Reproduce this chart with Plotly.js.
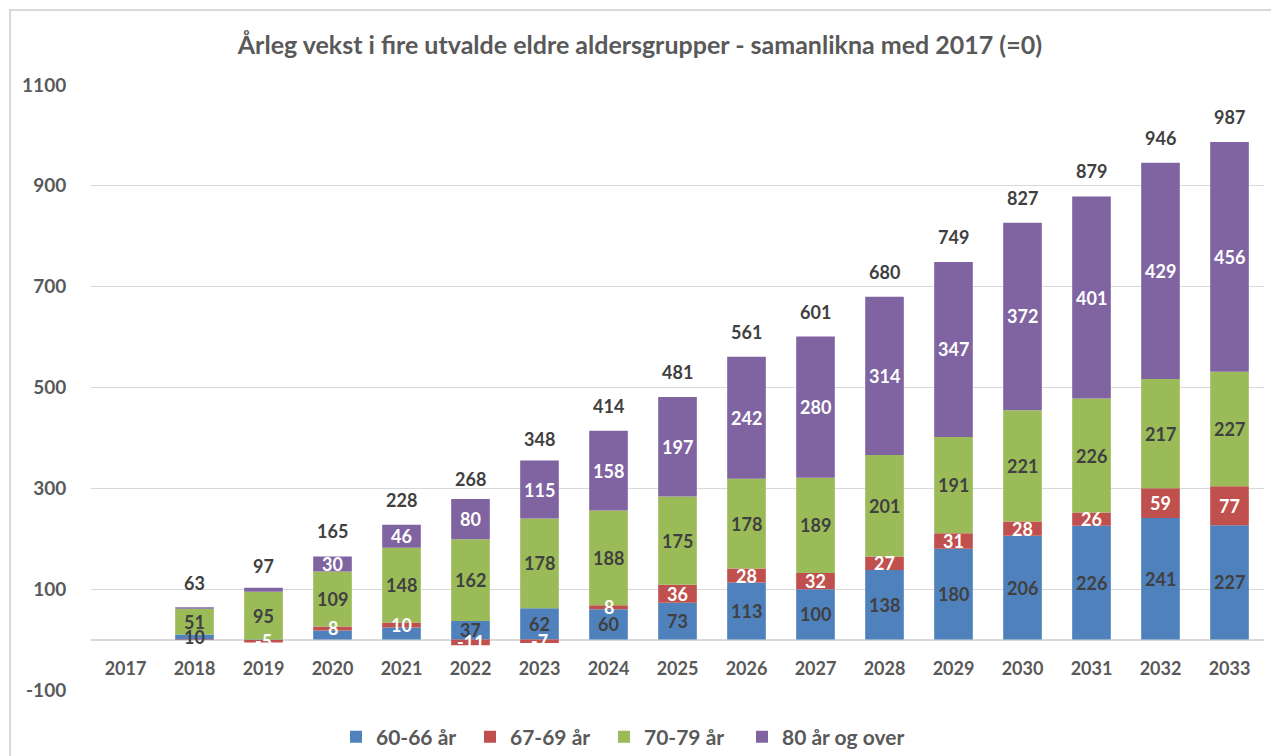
<!DOCTYPE html>
<html>
<head>
<meta charset="utf-8">
<script src="https://cdn.plot.ly/plotly-3.0.1.min.js"></script>
<style>
  html, body { margin: 0; padding: 0; background: #ffffff; }
  #wrap { position: relative; width: 1271px; height: 756px; overflow: hidden; }
  #frame { position: absolute; left: 9px; top: 9px; width: 1300px; height: 800px;
           border-left: 2px solid #d9d9d9; border-top: 2px solid #d9d9d9; pointer-events: none; z-index: 5; }
  #chart { position: absolute; left: 0; top: 0; width: 1271px; height: 756px; }
</style>
</head>
<body>
<div id="wrap">
  <div id="chart"></div>
  <div id="frame"></div>
</div>
<script>
// ---- data ----
const years = ['2017','2018','2019','2020','2021','2022','2023','2024','2025','2026','2027','2028','2029','2030','2031','2032','2033'];
const seriesNames = ['60-66 år', '67-69 år', '70-79 år', '80 år og over'];
const age6066 = [0, 10, -1, 18, 24, 37, 62, 60, 73, 113, 100, 138, 180, 206, 226, 241, 227];
const age6769 = [0, -1, -5, 8, 10, -11, -7, 8, 36, 28, 32, 27, 31, 28, 26, 59, 77];
const age7079 = [0, 51, 95, 109, 148, 162, 178, 188, 175, 178, 189, 201, 191, 221, 226, 217, 227];
const age80   = [0, 3, 8, 30, 46, 80, 115, 158, 197, 242, 280, 314, 347, 372, 401, 429, 456];
// data labels as printed in the chart ('' = not shown)
const labels6066 = ['', '10', '', '', '', '37', '62', '60', '73', '113', '100', '138', '180', '206', '226', '241', '227'];
const labels6769 = ['', '', '-5', '8', '10', '-11', '-7', '8', '36', '28', '32', '27', '31', '28', '26', '59', '77'];
const labels7079 = ['', '51', '95', '109', '148', '162', '178', '188', '175', '178', '189', '201', '191', '221', '226', '217', '227'];
const labels80   = ['', '', '', '30', '46', '80', '115', '158', '197', '242', '280', '314', '347', '372', '401', '429', '456'];
const totals     = [null, 63, 97, 165, 228, 268, 348, 414, 481, 561, 601, 680, 749, 827, 879, 946, 987];
// y-axis ticks
const yTickVals   = [-100, 100, 300, 500, 700, 900, 1100];
const yTickLabels = ['-100', '100', '300', '500', '700', '900', '1100'];

// ---- styles ----
const colors = ['#4f81bd', '#c0504d', '#9bbb59', '#8064a2'];
const labelColors = ['#404040', '#ffffff', '#404040', '#ffffff'];
const legendIds = ['legend', 'legend', 'legend', 'legend2'];
const FONT = 'Lato, "Open Sans", "DejaVu Sans", sans-serif';

const values = [age6066, age6769, age7079, age80];
const labelSets = [labels6066, labels6769, labels7079, labels80];

const traces = values.map((v, i) => ({
  type: 'bar',
  name: seriesNames[i],
  x: years,
  y: v,
  legend: legendIds[i],
  marker: { color: colors[i], line: { width: 0 } },
  hoverinfo: 'x+y+name'
}));

// segment label positions follow Plotly's relative stacking
// (annotation x on a category axis = category index)
const annotations = [];
const posBase = years.map(() => 0);
const negBase = years.map(() => 0);
values.forEach((v, i) => {
  v.forEach((val, j) => {
    let mid;
    if (val >= 0) { mid = posBase[j] + val / 2; posBase[j] += val; }
    else { mid = negBase[j] + val / 2; negBase[j] += val; }
    const t = labelSets[i][j];
    if (t) {
      annotations.push({
        x: j, y: mid, xref: 'x', yref: 'y', text: t, showarrow: false,
        yanchor: 'middle', xanchor: 'center',
        font: { family: FONT, size: 18, color: labelColors[i], weight: 'bold' }
      });
    }
  });
});
totals.forEach((t, j) => {
  if (t === null) return;
  annotations.push({
    x: j, y: t, xref: 'x', yref: 'y', text: String(t), showarrow: false,
    yanchor: 'middle', xanchor: 'center', yshift: 25,
    font: { family: FONT, size: 18, color: '#404040', weight: 'bold' }
  });
});

const legendFont = { family: FONT, size: 21, color: '#595959', weight: 'bold' };

const layout = {
  width: 1271, height: 756,
  margin: { l: 91, r: 7, t: 85, b: 66, pad: 0, autoexpand: false },
  paper_bgcolor: '#ffffff', plot_bgcolor: '#ffffff',
  barmode: 'relative',
  bargap: 0.44,
  title: {
    text: 'Årleg vekst i fire utvalde eldre aldersgrupper - samanlikna med 2017 (=0)',
    x: 0.5035, xref: 'container', xanchor: 'center',
    y: 1 - 45 / 756, yref: 'container', yanchor: 'middle',
    font: { family: FONT, size: 25, color: '#595959', weight: 'bold' }
  },
  xaxis: {
    type: 'category',
    range: [-0.5, years.length - 0.5],
    autorange: false,
    anchor: 'free',
    position: 100 / 1200,
    showgrid: false, zeroline: false, showline: false,
    ticks: 'outside', ticklen: 13, tickcolor: 'rgba(0,0,0,0)',
    tickfont: { family: FONT, size: 18, color: '#595959', weight: 'bold' }
  },
  yaxis: {
    range: [-100, 1100],
    autorange: false,
    tickmode: 'array', tickvals: yTickVals, ticktext: yTickLabels,
    showgrid: true, gridcolor: '#d9d9d9', gridwidth: 1,
    zeroline: true, zerolinecolor: '#d9d9d9', zerolinewidth: 2,
    showline: false,
    ticks: 'outside', ticklen: 20, tickcolor: 'rgba(0,0,0,0)',
    tickfont: { family: FONT, size: 19, color: '#595959', weight: 'bold' }
  },
  showlegend: true,
  legend: {
    orientation: 'h',
    x: (336 - 91) / 1173, xanchor: 'left',
    y: -(737 - 690) / 605, yanchor: 'middle',
    font: legendFont,
    traceorder: 'normal',
    entrywidth: 89, entrywidthmode: 'pixels'
  },
  legend2: {
    orientation: 'h',
    x: (742 - 91) / 1173, xanchor: 'left',
    y: -(737 - 690) / 605, yanchor: 'middle',
    font: legendFont
  },
  annotations: annotations
};

Plotly.newPlot('chart', traces, layout, { displayModeBar: false, staticPlot: true });
</script>
</body>
</html>
